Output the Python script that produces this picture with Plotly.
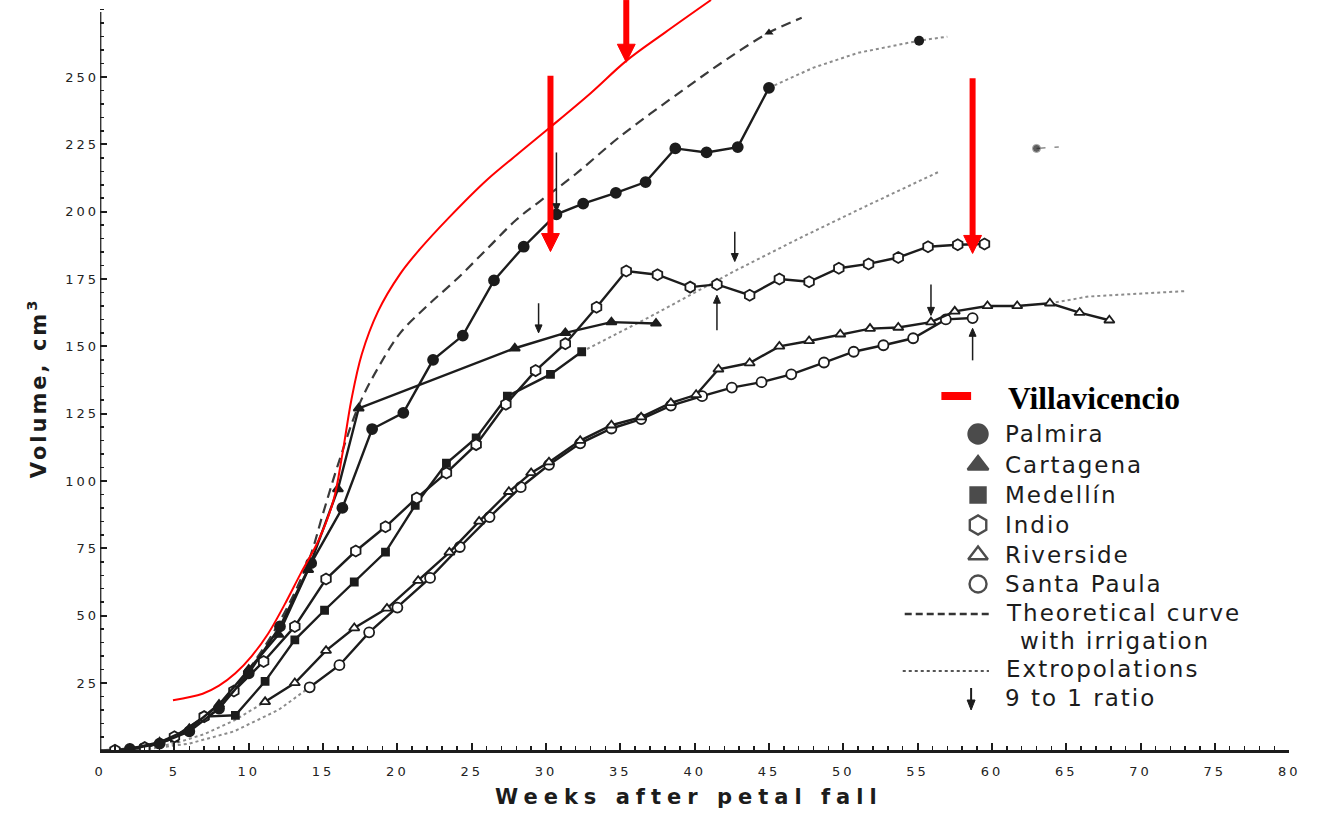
import plotly.graph_objects as go

# ---------------- data: weeks after petal fall / volume (cm3) ----------------
palmira_w = [2, 4, 6, 8, 10, 12.1, 14.2, 16.3, 18.3, 20.4, 22.4, 24.4, 26.5, 28.5, 30.7, 32.5, 34.7, 36.7, 38.7, 40.8, 42.9, 45]
palmira_v = [0.5, 2.5, 7, 15.5, 28.6, 46, 69.5, 90, 119.3, 125.3, 145, 154, 174.5, 187, 199, 203, 207, 211, 223.5, 222, 224, 246]
palmira_ext_w = [45, 48, 51, 55.1, 57]
palmira_ext_v = [246, 253.5, 259, 263.5, 265]
palmira_late_w = [63, 64.5]
palmira_late_v = [223.5, 224]

cartagena_w = [2, 4, 6, 8, 10, 12, 14, 16, 17.4, 27.9, 31.3, 34.4, 37.4]
cartagena_v = [0.5, 3, 8, 17, 30, 43, 67, 97, 127, 149.3, 155, 159, 158.5]

medellin_w = [3, 5, 7, 9.1, 11.1, 13.1, 15.1, 17.1, 19.2, 21.2, 23.3, 25.3, 27.4, 30.3, 32.4]
medellin_v = [1, 4.5, 12.5, 13, 25.6, 41, 52, 62.5, 73.6, 91, 106.6, 116, 131.5, 139.6, 148]
medellin_ext_w = [32.4, 37, 42.7, 47, 51.5, 56.5]
medellin_ext_v = [148, 161, 178, 190, 202, 215]

indio_w = [1, 3, 5, 7, 9, 11, 13.1, 15.2, 17.2, 19.2, 21.3, 23.3, 25.3, 27.3, 29.3, 31.3, 33.4, 35.4,
           37.5, 39.7, 41.5, 43.7, 45.7, 47.7, 49.7, 51.7, 53.7, 55.7, 57.7, 59.5]
indio_v = [0, 1, 5, 12.5, 22, 33, 46, 63.6, 74, 83, 93.7, 103, 113.5, 128.5, 141, 151, 164.5, 178,
           176.6, 172, 173, 169, 175, 174, 179, 180.6, 183, 187, 187.7, 188]

riverside_early_w = [0, 3, 5, 7, 9, 11.1]
riverside_early_v = [0, 0.5, 2.5, 6, 11, 18]
riverside_w = [11.1, 13.1, 15.2, 17.1, 19.3, 21.4, 23.5, 25.5, 27.5, 29, 30.2, 32.3, 34.4, 36.4, 38.4, 40.1,
               41.6, 43.7, 45.7, 47.7, 49.8, 51.8, 53.7, 55.9, 57.5, 59.7, 61.7, 63.9, 65.9, 67.9]
riverside_v = [18, 25, 37, 45.4, 52.7, 63, 73.5, 85, 96, 103, 107, 115, 120.7, 123.7, 129, 132,
               141.5, 143.8, 150, 152, 154.5, 156.6, 157, 159, 163, 165, 165, 166, 162.5, 159.7]
riverside_ext_w = [63.9, 66.5, 73]
riverside_ext_v = [166, 168.5, 170.5]

santapaula_early_w = [0, 3, 6, 9, 12, 14.1]
santapaula_early_v = [0, 0.3, 2.5, 7, 15, 23.4]
santapaula_w = [14.1, 16.1, 18.1, 20, 22.2, 24.2, 26.2, 28.3, 30.2, 32.3, 34.4, 36.4, 38.4, 40.5, 42.5,
                44.5, 46.5, 48.7, 50.7, 52.7, 54.7, 56.9, 58.7]
santapaula_v = [23.4, 31.6, 43.8, 53, 64, 75.5, 86.6, 97.7, 106, 114, 119.5, 123, 128, 131.5, 134.7,
                136.7, 139.6, 144, 148, 150.4, 153, 160, 160.5]

theory_w = [0, 2, 4, 6, 8, 10, 12, 14, 15, 16, 17.4, 18.7, 20.2, 22, 24, 26, 28, 29.5, 32, 35, 39.3, 42, 45, 47.2]
theory_v = [0, 0.8, 3, 8, 16, 30, 47, 70, 88, 106, 128, 142, 155, 165, 175, 186, 197, 203.5, 214, 228, 245.5, 256, 266.5, 272]

villa_w = [4.9, 6.9, 8, 9.1, 10.2, 11.3, 12.4, 13.5, 14.7, 15.7, 16.3, 16.9, 17.6, 18.7, 20.2, 21.5, 23.5, 26, 28,
           30.2, 33, 35.4, 38, 41.1]
villa_v = [18.6, 21, 24, 28.6, 35, 43.3, 54, 65.7, 78, 92.8, 110, 130, 147, 163, 177, 186, 198, 211.7, 221,
           231, 244, 256, 266.5, 278.6]

# 9 to 1 ratio arrows (week, tail volume, tip volume)
ratio_w = [29.5, 30.7, 42.7, 41.5, 55.9, 58.7]
ratio_tail = [166, 222, 192.6, 156, 173, 144.8]
ratio_tip = [155, 200, 181.5, 169, 161.5, 156.7]

# red marker arrows (week, top volume, tip volume)
red_w = [35.4, 30.3, 58.7]
red_top = [278.6, 250.5, 249.6]
red_tip = [255.5, 185.2, 184.5]

x_ticks = list(range(0, 81, 5))
y_ticks = list(range(25, 251, 25))

legend_names = ["Palmira", "Cartagena", "Medellín", "Indio", "Riverside", "Santa Paula"]
legend_symbols = ["circle", "triangle-up", "square", "hexagon-open", "triangle-up-open", "circle-open"]
legend_sizes = [19, 18, 15, 19, 17, 17]
legend_rows = [434, 465, 495, 525, 555, 584]

# ---------------- geometry ----------------
W, H = 1317, 814
X0, X80 = 97, 1297
Y0 = 750.3
PX_PER_UNIT = 2.693
YTOP = Y0 / PX_PER_UNIT
PX_PER_WEEK = (X80 - X0) / 80.0

INK = "#1c1c1c"
GRAY = "#8c8c8c"

fig = go.Figure()


def dotted(w, v, width=2.0):
    fig.add_trace(go.Scatter(x=w, y=v, mode="lines", line=dict(color=GRAY, width=width, dash="dot"),
                             hoverinfo="skip", showlegend=False))


def series(w, v, symbol, size, fill, lw=2.4):
    fig.add_trace(go.Scatter(x=w, y=v, mode="lines+markers", line=dict(color=INK, width=lw),
                             marker=dict(symbol=symbol, size=size, color=fill, line=dict(color=INK, width=1.8)),
                             showlegend=False))


# extrapolations
dotted(palmira_ext_w, palmira_ext_v)
dotted(medellin_ext_w, medellin_ext_v)
dotted(riverside_ext_w, riverside_ext_v)
dotted(riverside_early_w, riverside_early_v)
dotted(santapaula_early_w, santapaula_early_v)
fig.add_trace(go.Scatter(x=palmira_ext_w[3:4], y=palmira_ext_v[3:4], mode="markers",
                         marker=dict(symbol="circle", size=10, color=INK), showlegend=False))
fig.add_trace(go.Scatter(x=palmira_late_w, y=palmira_late_v, mode="lines+markers",
                         line=dict(color=GRAY, width=1.5, dash="dash"),
                         marker=dict(size=[8, 0], color=INK), showlegend=False))

# theoretical curve
fig.add_trace(go.Scatter(x=theory_w, y=theory_v, mode="lines", line=dict(color="#3a3a3a", width=2.2, dash="10px,6px"),
                         line_shape="spline", showlegend=False))
fig.add_trace(go.Scatter(x=theory_w[-2:-1], y=theory_v[-2:-1], mode="markers",
                         marker=dict(symbol="triangle-up", size=8, color=INK), showlegend=False))

# observed series
series(santapaula_w, santapaula_v, "circle", 10, "white")
series(riverside_w, riverside_v, "triangle-up", 9, "white")
series(medellin_w, medellin_v, "square", 7, INK)
series(indio_w, indio_v, "hexagon", 11, "white")
series(cartagena_w, cartagena_v, "triangle-up", 9, INK)
series(palmira_w, palmira_v, "circle", 10, INK)

# Villavicencio (red)
fig.add_trace(go.Scatter(x=villa_w, y=villa_v, mode="lines", line=dict(color="#ff0000", width=2),
                         line_shape="spline", showlegend=False))

shapes = []
# y axis line
shapes.append(dict(type="line", xref="x", yref="y", x0=0, x1=0, y0=0, y1=(Y0 - 12) / PX_PER_UNIT,
                   line=dict(color=INK, width=2.5)))


def arrow(w, top, tip, color, lw, head_px, half_px, xref="x", yref="y"):
    """vertical arrow in data coordinates, head given in pixels"""
    hl = head_px / PX_PER_UNIT
    hw = half_px / PX_PER_WEEK
    sgn = 1 if top > tip else -1
    shapes.append(dict(type="line", xref=xref, yref=yref, x0=w, x1=w, y0=top, y1=tip + sgn * hl * 0.6,
                       line=dict(color=color, width=lw)))
    shapes.append(dict(type="path", xref=xref, yref=yref,
                       path=f"M {w - hw} {tip + sgn * hl} L {w + hw} {tip + sgn * hl} L {w} {tip} Z",
                       fillcolor=color, line=dict(color=color, width=1)))


# red arrows
for w, top, tip in zip(red_w, red_top, red_tip):
    arrow(w, top, tip, "#ff0000", 6, 18, 9)
# 9 to 1 ratio arrows
for w, tail, tip in zip(ratio_w, ratio_tail, ratio_tip):
    arrow(w, tail, tip, INK, 1.5, 8, 3.5)

# legend (paper / pixel placement)
px_x = lambda p: p / W
px_y = lambda p: 1 - p / H
shapes.append(dict(type="line", xref="paper", yref="paper", x0=px_x(909), x1=px_x(997), y0=px_y(614), y1=px_y(614),
                   line=dict(color="#333", width=2.5, dash="7px,4px")))
shapes.append(dict(type="line", xref="paper", yref="paper", x0=px_x(907), x1=px_x(994), y0=px_y(671), y1=px_y(671),
                   line=dict(color="#555", width=2, dash="dot")))
shapes.append(dict(type="rect", xref="paper", yref="paper", x0=px_x(946), x1=px_x(976), y0=px_y(400), y1=px_y(392),
                   fillcolor="#ff0000", line=dict(width=0)))
# legend arrow (9 to 1 ratio)
shapes.append(dict(type="line", xref="paper", yref="paper", x0=px_x(976), x1=px_x(976), y0=px_y(688), y1=px_y(702),
                   line=dict(color=INK, width=2)))
shapes.append(dict(type="path", xref="paper", yref="paper",
                   path=f"M {px_x(972)} {px_y(700)} L {px_x(980)} {px_y(700)} L {px_x(976)} {px_y(710)} Z",
                   fillcolor=INK, line=dict(color=INK, width=1)))

fig.add_trace(go.Scatter(x=[983] * len(legend_rows), y=legend_rows, mode="markers", xaxis="x2", yaxis="y2",
                         marker=dict(symbol=legend_symbols, size=legend_sizes, color="black",
                                     line=dict(color="black", width=2.4)),
                         showlegend=False, cliponaxis=False))

LEG_SP = 2
annotations = []
spacing = []
for name, row in zip(legend_names, legend_rows):
    annotations.append(dict(xref="paper", yref="paper", x=px_x(1008 + len(name) * LEG_SP / 2), y=px_y(row),
                            xanchor="left", yanchor="middle",
                            text=name, showarrow=False, font=dict(family="DejaVu Sans", size=23, color=INK)))
    spacing.append(LEG_SP)
for txt, xx, row in [("Theoretical curve", 1009, 613), ("with irrigation", 1023, 641),
                     ("Extropolations", 1009, 669), ("9 to 1 ratio", 1008, 698)]:
    annotations.append(dict(xref="paper", yref="paper", x=px_x(xx + len(txt) * LEG_SP / 2), y=px_y(row),
                            xanchor="left", yanchor="middle",
                            text=txt, showarrow=False, font=dict(family="DejaVu Sans", size=23, color=INK)))
    spacing.append(LEG_SP)
annotations.append(dict(xref="paper", yref="paper", x=px_x(1011), y=px_y(398), xanchor="left", yanchor="middle",
                        text="<b>Villavicencio</b>", showarrow=False,
                        font=dict(family="Liberation Serif", size=31.5, color="black")))
spacing.append(0)
# axis titles
annotations.append(dict(xref="paper", yref="paper", x=px_x(691), y=px_y(797), xanchor="center", yanchor="middle",
                        text="<b>Weeks after petal fall</b>", showarrow=False,
                        font=dict(family="DejaVu Sans", size=21, color=INK)))
spacing.append(6)
annotations.append(dict(xref="paper", yref="paper", x=px_x(33), y=px_y(388), xanchor="center", yanchor="middle",
                        textangle=-90, text="<b>Volume, cm<sup>3</sup></b>", showarrow=False,
                        font=dict(family="DejaVu Sans", size=21, color=INK)))
spacing.append(3)

tickfont = dict(family="DejaVu Sans", size=13, color="#222")
fig.update_layout(
    width=W, height=H, margin=dict(l=0, r=0, t=0, b=0),
    paper_bgcolor="white", plot_bgcolor="rgba(0,0,0,0)", showlegend=False,
    xaxis=dict(domain=[X0 / W, X80 / W], range=[0, 80], showline=True, linecolor=INK, linewidth=2.5,
               showgrid=False, zeroline=False, tickmode="array", tickvals=x_ticks,
               ticks="inside", ticklen=7, tickwidth=2, tickcolor=INK, ticklabelstandoff=8,
               minor=dict(tickmode="linear", tick0=0, dtick=1, ticks="inside", ticklen=4, tickwidth=1.5,
                          tickcolor=INK, showgrid=False),
               tickfont=tickfont, fixedrange=True),
    yaxis=dict(domain=[(H - Y0) / H, 1], range=[0, YTOP], showline=False, showgrid=False, zeroline=False,
               tickmode="array", tickvals=y_ticks, ticks="inside", ticklen=7, tickwidth=2, tickcolor=INK,
               ticklabelstandoff=0,
               minor=dict(tickmode="linear", tick0=0, dtick=5, ticks="inside", ticklen=4, tickwidth=1.5,
                          tickcolor=INK, showgrid=False),
               tickfont=tickfont, fixedrange=True),
    xaxis2=dict(domain=[0, 1], range=[0, W], visible=False, anchor="y2", fixedrange=True),
    yaxis2=dict(domain=[0, 1], range=[H, 0], visible=False, anchor="x2", fixedrange=True),
    shapes=shapes, annotations=annotations,
)

post = """
document.querySelectorAll('.xtick text, .ytick text').forEach(function(t){t.style.letterSpacing='3px';});
var sp = %s;
document.querySelectorAll('g.annotation').forEach(function(g){
  var i = +g.getAttribute('data-index'); var t = g.querySelector('text');
  if (t && sp[i]) { t.style.letterSpacing = sp[i] + 'px'; }
});
""" % (spacing,)

fig.write_html("out.html", post_script=post, config={"staticPlot": True})
